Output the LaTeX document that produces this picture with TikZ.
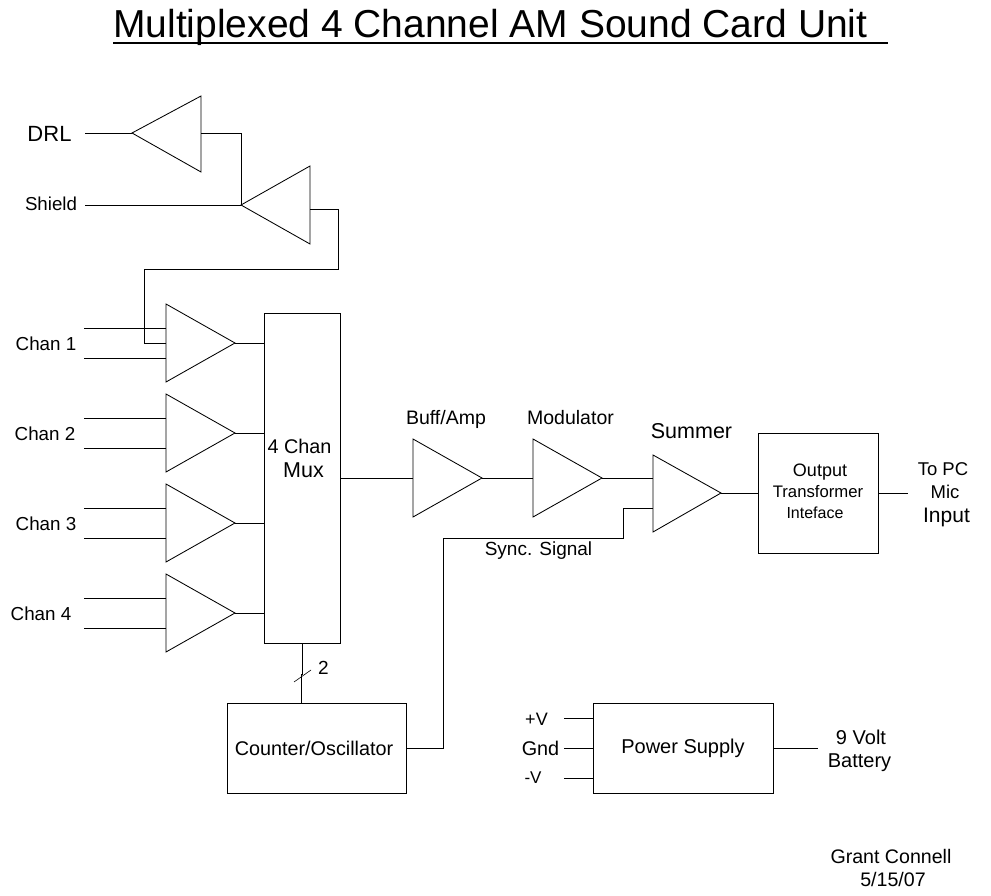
\documentclass[tikz,border=0pt]{standalone}
\usepackage{fontspec}
\setmainfont{Liberation Sans}
\newcommand{\fs}[1]{\fontsize{#1}{#1}\selectfont}
\tikzset{
  wire/.style={draw=black,line width=0.95pt},
  lbl/.style={inner sep=0pt,align=center,text=black},
  block/.style={draw=black,line width=0.95pt,fill=white,inner sep=0pt,align=center},
  amp/.style={draw=black,line width=0.85pt,fill=white}
}
% name, left x, centre y: triangle with named input, output and mid points
\newcommand{\ampl}[3]{\draw[amp] (#2,#3-39) -- (#2+69,#3) coordinate (#1o) -- (#2,#3+39) -- cycle; \coordinate (#1a) at (#2,#3-15); \coordinate (#1c) at (#2,#3+15);\coordinate (#1m) at (#2,#3);}
\begin{document}
\begin{tikzpicture}[x=1pt,y=-1pt]
\useasboundingbox (0,0) rectangle (991,896);
\node[lbl,font=\fs{39},anchor=base west] (title) at (113,38) {Multiplexed 4 Channel AM Sound Card Unit};
\draw[line width=2.6pt] (113,43) -- (888,43);
% top amps
\draw[amp] (201,133) coordinate (do) -- (201,96) -- (132,133) coordinate (d) -- (201,172) -- cycle;
\draw[amp] (310,205) -- (310,166) -- (241,205) coordinate (s) -- (310,244) -- cycle;
\coordinate (so) at (310,209);
\node[lbl,font=\fs{22}] (drl) at (49.5,134) {DRL};
\node[lbl,font=\fs{18.7}] (shield) at (51,204) {Shield};
\coordinate (drlw) at (85,133);
\coordinate (shw) at (85,205);
\draw[wire] (drlw) -- (d);
\draw[wire] (shw) -- (s);
\draw[wire] (do) -| (s);
% channels
\ampl{a}{166}{343}\ampl{b}{166}{433}\ampl{e}{166}{523}\ampl{k}{166}{613}
\draw[wire] (so) -- (338,209) -- (338,269) -- (144,269) -- (144,343) -- (am);
\foreach \y/\t/\x in {343/Chan 1/46,433/Chan 2/45,523/Chan 3/46,613/Chan 4/41}{
  \draw[wire] (84,\y-15) -- (166,\y-15);
  \draw[wire] (84,\y+15) -- (166,\y+15);
  \node[lbl,font=\fs{18.8}] at (\x,\y+1) {\t};
  \draw[wire] (235,\y) -- (264,\y);
}
\node[block,minimum width=76pt,minimum height=330pt] (mux) at (302,478) {};
\node[lbl,font=\fs{19.8}] (muxa) at (299.5,446) {4 Chan};
\node[lbl,font=\fs{21.5}] (muxb) at (303.5,470) {Mux};
\ampl{f}{413}{478}\ampl{g}{533}{478}
\draw[amp] (653,455) -- (721,493) coordinate (ho) -- (653,532) -- cycle;
\coordinate (hm) at (653,478); \coordinate (hc) at (653,508);
\draw[wire] (mux.east |- fm) -- (fm);
\draw[wire] (fo) -- (gm);
\draw[wire] (go) -- (hm);
\node[block,minimum width=120pt,minimum height=120pt] (out) at (818,493) {};
\draw[wire] (ho) -- (out.west |- ho);
\coordinate (pc) at (908,493);
\draw[wire] (out.east |- ho) -- (pc);
\node[lbl,font=\fs{18}] at (820,472) {Output};
\node[lbl,font=\fs{16.7}] at (818,492) {Transformer};
\node[lbl,font=\fs{16}] at (815,513) {Inteface};
\node[lbl,font=\fs{19.5}] at (446,419) {Buff/Amp};
\node[lbl,font=\fs{19.5}] at (570.5,418) {Modulator};
\node[lbl,font=\fs{21.5}] at (691.5,431) {Summer};
\node[lbl,font=\fs{18.5}] at (943,469) {To PC};
\node[lbl,font=\fs{18.5}] at (945,492) {Mic};
\node[lbl,font=\fs{21}] at (946.5,517) {Input};
\node[lbl,font=\fs{19}] at (538.5,551) {Sync. Signal};
% counter
\node[block,minimum width=179pt,minimum height=90pt] (cnt) at (317,748) {};
\node[lbl,font=\fs{19.8}] at (314,748) {Counter/Oscillator};
\draw[wire] (mux.south -| 302,0) -- (302,674) -- (301,674) -- (cnt.north -| 301,0);
\draw[line width=0.6pt] (294,682) -- (311,670);
\node[lbl,font=\fs{19}] at (323.5,668) {2};
\draw[wire] (cnt.east) -- (443,748) -- (443,538) -- (623,538) -- (623,508) -- (hc);
% power
\node[block,minimum width=180pt,minimum height=90pt,font=\fs{20}] (ps) at (683,748) {Power Supply};
\draw[wire] (564,718) -- (593,718);
\draw[wire] (564,748) -- (593,748);
\draw[wire] (564,778) -- (593,778);
\node[lbl,font=\fs{18}] at (536.5,719) {+V};
\node[lbl,font=\fs{19.8}] at (540.5,748) {Gnd};
\node[lbl,font=\fs{17}] at (533,778) {-V};
\draw[wire] (ps.east) -- (818,748);
\node[lbl,font=\fs{20}] at (861,737) {9 Volt};
\node[lbl,font=\fs{20}] at (859.5,763) {Battery};
\node[lbl,font=\fs{19.6}] at (891,856) {Grant Connell};
\node[lbl,font=\fs{19.6}] at (893,879) {5/15/07};
\end{tikzpicture}
\end{document}
